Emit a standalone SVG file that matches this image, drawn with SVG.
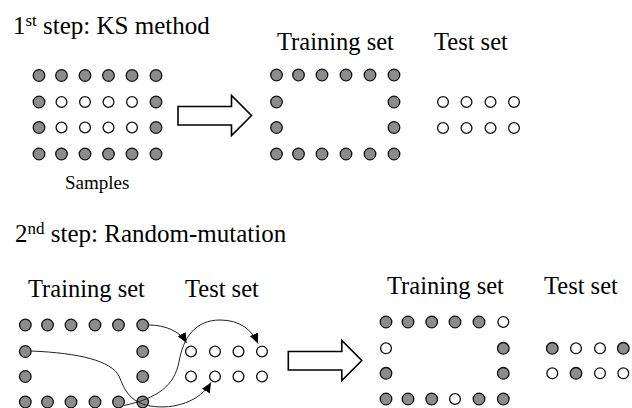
<svg xmlns="http://www.w3.org/2000/svg" width="632" height="408" viewBox="0 0 632 408">
<style>
.g{fill:#8c8c8c;stroke:#111;stroke-width:1.3}
.w{fill:#fff;stroke:#111;stroke-width:1.3}
text{font-family:'Liberation Serif','Times New Roman','DejaVu Serif',serif;fill:#000}
.h{font-size:25px}
.l{font-size:24.5px}
.big{fill:#fff;stroke:#000;stroke-width:1.6;stroke-linejoin:miter}
.c{fill:none;stroke:#222;stroke-width:1}
</style>
<defs>
<marker id="ah" markerUnits="userSpaceOnUse" markerWidth="11" markerHeight="9" refX="10" refY="4.5" orient="auto" viewBox="0 0 11 9">
<path d="M0,0 L10,4.5 L0,9 z" fill="#000"/>
</marker>
<path id="bigarrow" d="M0,0 H53.5 V-11 L73.5,9 L53.5,29 V18.5 H0 z"/>
</defs>
<rect width="632" height="408" fill="#fff"/>

<g id="step1-title"><text class="h" font-family="Liberation Serif, serif" x="13" y="33.5">1<tspan font-size="17" dy="-8">st</tspan><tspan dy="8"> step: KS method</tspan></text></g>

<g id="step1-samples">
<circle class="g" cx="39" cy="75.5" r="5.8"/><circle class="g" cx="61.5" cy="75.5" r="5.8"/><circle class="g" cx="85" cy="75.5" r="5.8"/><circle class="g" cx="108.5" cy="75.5" r="5.8"/><circle class="g" cx="132" cy="75.5" r="5.8"/><circle class="g" cx="156" cy="75.5" r="5.8"/>
<circle class="g" cx="39" cy="102" r="5.8"/><circle class="w" cx="61.5" cy="102" r="5.4"/><circle class="w" cx="85" cy="102" r="5.4"/><circle class="w" cx="108.5" cy="102" r="5.4"/><circle class="w" cx="132" cy="102" r="5.4"/><circle class="g" cx="156" cy="102" r="5.8"/>
<circle class="g" cx="39" cy="127.5" r="5.8"/><circle class="w" cx="61.5" cy="127.5" r="5.4"/><circle class="w" cx="85" cy="127.5" r="5.4"/><circle class="w" cx="108.5" cy="127.5" r="5.4"/><circle class="w" cx="132" cy="127.5" r="5.4"/><circle class="g" cx="156" cy="127.5" r="5.8"/>
<circle class="g" cx="39" cy="154" r="5.8"/><circle class="g" cx="61.5" cy="154" r="5.8"/><circle class="g" cx="85" cy="154" r="5.8"/><circle class="g" cx="108.5" cy="154" r="5.8"/><circle class="g" cx="132" cy="154" r="5.8"/><circle class="g" cx="156" cy="154" r="5.8"/>
<text font-family="Liberation Serif, serif" font-size="19" x="65" y="188.5">Samples</text>
</g>

<g id="step1-arrow"><use href="#bigarrow" class="big" x="178" y="106.5"/></g>

<g id="step1-training">
<text class="l" font-family="Liberation Serif, serif" x="277" y="49.5">Training set</text>
<circle class="g" cx="276.5" cy="75" r="5.8"/><circle class="g" cx="298.5" cy="75" r="5.8"/><circle class="g" cx="322" cy="75" r="5.8"/><circle class="g" cx="346" cy="75" r="5.8"/><circle class="g" cx="370" cy="75" r="5.8"/><circle class="g" cx="394" cy="75" r="5.8"/>
<circle class="g" cx="276.5" cy="102" r="5.8"/><circle class="g" cx="394" cy="102" r="5.8"/>
<circle class="g" cx="276.5" cy="127.5" r="5.8"/><circle class="g" cx="394" cy="127.5" r="5.8"/>
<circle class="g" cx="276.5" cy="154" r="5.8"/><circle class="g" cx="298.5" cy="154" r="5.8"/><circle class="g" cx="322" cy="154" r="5.8"/><circle class="g" cx="346" cy="154" r="5.8"/><circle class="g" cx="370" cy="154" r="5.8"/><circle class="g" cx="394" cy="154" r="5.8"/>
</g>

<g id="step1-test">
<text class="l" font-family="Liberation Serif, serif" x="434" y="49.5">Test set</text>
<circle class="w" cx="443" cy="102" r="5.4"/><circle class="w" cx="466.5" cy="102" r="5.4"/><circle class="w" cx="490.5" cy="102" r="5.4"/><circle class="w" cx="514" cy="102" r="5.4"/>
<circle class="w" cx="443" cy="128" r="5.4"/><circle class="w" cx="466.5" cy="128" r="5.4"/><circle class="w" cx="490.5" cy="128" r="5.4"/><circle class="w" cx="514" cy="128" r="5.4"/>
</g>

<g id="step2-title"><text class="h" font-family="Liberation Serif, serif" x="15" y="241.7">2<tspan font-size="17" dy="-8">nd</tspan><tspan dy="8"> step: Random-mutation</tspan></text></g>

<g id="step2-training-before">
<text class="l" font-family="Liberation Serif, serif" x="28" y="296.7">Training set</text>
<circle class="g" cx="25.3" cy="325" r="5.8"/><circle class="g" cx="47.5" cy="325" r="5.8"/><circle class="g" cx="71" cy="325" r="5.8"/><circle class="g" cx="95" cy="325" r="5.8"/><circle class="g" cx="118.5" cy="325" r="5.8"/><circle class="g" cx="142.7" cy="325" r="5.8"/>
<circle class="g" cx="25.3" cy="351.5" r="5.8"/><circle class="g" cx="142.7" cy="351.5" r="5.8"/>
<circle class="g" cx="25.3" cy="376.5" r="5.8"/><circle class="g" cx="142.7" cy="376.5" r="5.8"/>
<circle class="g" cx="25.3" cy="402" r="5.8"/><circle class="g" cx="47.5" cy="402" r="5.8"/><circle class="g" cx="71" cy="402" r="5.8"/><circle class="g" cx="95" cy="402" r="5.8"/><circle class="g" cx="118.5" cy="402" r="5.8"/><circle class="g" cx="142.7" cy="402" r="5.8"/>
</g>

<g id="step2-test-before">
<text class="l" font-family="Liberation Serif, serif" x="185" y="296.7">Test set</text>
<circle class="w" cx="191" cy="351.5" r="5.4"/><circle class="w" cx="215" cy="351.5" r="5.4"/><circle class="w" cx="238.5" cy="351.5" r="5.4"/><circle class="w" cx="262" cy="351.5" r="5.4"/>
<circle class="w" cx="191" cy="376.5" r="5.4"/><circle class="w" cx="215" cy="376.5" r="5.4"/><circle class="w" cx="238.5" cy="376.5" r="5.4"/><circle class="w" cx="262" cy="376.5" r="5.4"/>
</g>

<g id="connectors">
<path class="c" d="M148.5,325 C165,325 180,331 186.5,343" marker-end="url(#ah)"/>
<path class="c" d="M124,405.5 C158,398 174,386 179,362 C183,338 195,320 220,320 C240,320 252,330 258,343.5" marker-end="url(#ah)"/>
<path class="c" d="M31,351 C80,353 111,361 119,376 C125,391 130,402 150,406 C175,410 200,401 211,382.5" marker-end="url(#ah)"/>
</g>

<g id="step2-arrow"><use href="#bigarrow" class="big" x="288.3" y="351.5"/></g>

<g id="step2-training-after">
<text class="l" font-family="Liberation Serif, serif" x="387" y="294">Training set</text>
<circle class="g" cx="386" cy="322" r="5.8"/><circle class="g" cx="408" cy="322" r="5.8"/><circle class="g" cx="431.7" cy="322" r="5.8"/><circle class="g" cx="455" cy="322" r="5.8"/><circle class="g" cx="479" cy="322" r="5.8"/><circle class="w" cx="503.3" cy="322" r="5.4"/>
<circle class="w" cx="386" cy="348.3" r="5.4"/><circle class="g" cx="503.3" cy="348.3" r="5.8"/>
<circle class="g" cx="386" cy="373.3" r="5.8"/><circle class="g" cx="503.3" cy="373.3" r="5.8"/>
<circle class="g" cx="386" cy="399" r="5.8"/><circle class="g" cx="408" cy="399" r="5.8"/><circle class="g" cx="431.7" cy="399" r="5.8"/><circle class="w" cx="455" cy="399" r="5.4"/><circle class="g" cx="479" cy="399" r="5.8"/><circle class="g" cx="503.3" cy="399" r="5.8"/>
</g>

<g id="step2-test-after">
<text class="l" font-family="Liberation Serif, serif" x="544" y="294">Test set</text>
<circle class="g" cx="552.3" cy="348.3" r="5.8"/><circle class="w" cx="576" cy="348.3" r="5.4"/><circle class="w" cx="600" cy="348.3" r="5.4"/><circle class="g" cx="623.3" cy="348.3" r="5.8"/>
<circle class="w" cx="552.3" cy="373.3" r="5.4"/><circle class="g" cx="576" cy="373.3" r="5.8"/><circle class="w" cx="600" cy="373.3" r="5.4"/><circle class="w" cx="623.3" cy="373.3" r="5.4"/>
</g>
</svg>
